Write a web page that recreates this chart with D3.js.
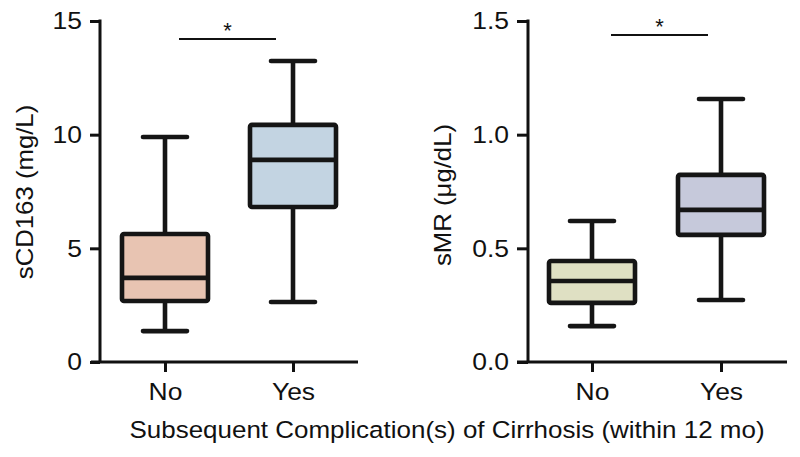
<!DOCTYPE html>
<html><head><meta charset="utf-8">
<script src="https://cdn.jsdelivr.net/npm/d3@7"></script>
<style>body{margin:0;background:#fff}svg{display:block}text{font-family:"Liberation Sans",Arial,sans-serif;fill:#111}</style>
</head><body>
<svg id="c" width="800" height="457"></svg>
<script>
const categories = ["No", "Yes"];
// [min, q1, median, q3, max]
const sCD163 = [[1.36, 2.68, 3.70, 5.63, 9.90], [2.64, 6.82, 8.89, 10.43, 13.24]];
const sMR = [[0.158, 0.26, 0.356, 0.444, 0.62], [0.273, 0.559, 0.669, 0.823, 1.157]];
const leftTicks = [0, 5, 10, 15];
const rightTicks = [0, 0.5, 1.0, 1.5];
const leftColors = ["#e8c4b2", "#c3d4e2"];
const rightColors = ["#dfe0c3", "#c6c9db"];

const svg = d3.select("#c");
const FS = 24.5;
function stretch(sel, k) {
  sel.each(function() {
    const L = this.getComputedTextLength();
    d3.select(this).attr("textLength", L * k).attr("lengthAdjust", "spacingAndGlyphs");
  });
}

function panel(opt) {
  const g = svg.append("g");
  const y = d3.scaleLinear().domain(opt.domain).range([362, 21]);
  const x = d3.scalePoint().domain(categories).range(opt.xr);
  const ya = d3.axisLeft(y).tickValues(opt.ticks).tickFormat(opt.fmt).tickSize(opt.ts).tickPadding(8);
  const yg = g.append("g").attr("transform", `translate(${opt.ax},0)`).call(ya);
  yg.select(".domain").remove();
  yg.append("line").attr("x1", 0).attr("x2", 0).attr("y1", y(opt.domain[1]) - 1.5).attr("y2", 362).attr("stroke", "#111").attr("stroke-width", 3);
  yg.selectAll(".tick line").attr("stroke", "#111").attr("stroke-width", 3);
  yg.selectAll(".tick text").attr("font-size", FS).style("fill", "#111").call(stretch, 1.08);
  const xa = d3.axisBottom(x).tickSize(10).tickPadding(11);
  const xg = g.append("g").attr("transform", "translate(0,362)").call(xa);
  xg.select(".domain").remove();
  xg.append("line").attr("x1", opt.xline[0]).attr("x2", opt.xline[1]).attr("stroke", "#111").attr("stroke-width", 3);
  xg.selectAll(".tick line").attr("stroke", "#111").attr("stroke-width", 3);
  xg.selectAll(".tick text").attr("font-size", FS).style("fill", "#111").call(stretch, 1.08);
  const hw = 43, cw = 22;
  opt.data.forEach((d, i) => {
    const cx = x(categories[i]);
    const bg = g.append("g").attr("stroke", "#151515").attr("stroke-width", 4.6);
    bg.append("line").attr("x1", cx).attr("x2", cx).attr("y1", y(d[0])).attr("y2", y(d[1]));
    bg.append("line").attr("x1", cx).attr("x2", cx).attr("y1", y(d[3])).attr("y2", y(d[4]));
    bg.append("line").attr("x1", cx - cw).attr("x2", cx + cw).attr("y1", y(d[0])).attr("y2", y(d[0])).attr("stroke-linecap", "round");
    bg.append("line").attr("x1", cx - cw).attr("x2", cx + cw).attr("y1", y(d[4])).attr("y2", y(d[4])).attr("stroke-linecap", "round");
    bg.append("rect").attr("x", cx - hw).attr("width", 2 * hw).attr("y", y(d[3])).attr("height", y(d[1]) - y(d[3]))
      .attr("fill", opt.colors[i]).attr("rx", 2).attr("stroke-linejoin", "round");
    bg.append("line").attr("x1", cx - hw).attr("x2", cx + hw).attr("y1", y(d[2])).attr("y2", y(d[2]));
  });
  g.append("line").attr("x1", opt.sig[0]).attr("x2", opt.sig[1]).attr("y1", opt.sigY).attr("y2", opt.sigY)
    .attr("stroke", "#111").attr("stroke-width", 2);
  g.append("text").attr("x", (opt.sig[0] + opt.sig[1]) / 2).attr("y", opt.sigY - 1).attr("text-anchor", "middle")
    .attr("font-size", 22).text("*");
  g.append("text").attr("transform", `translate(${opt.lx},${opt.ly}) rotate(-90)`).attr("text-anchor", "middle")
    .attr("font-size", FS).text(opt.label).call(stretch, 1.05);
}

panel({domain: [0, 15], ticks: leftTicks, fmt: d3.format("d"), ax: 100, ts: 10, xr: [165, 293], xline: [91, 358],
  data: sCD163, colors: leftColors, sig: [179, 276], sigY: 39, lx: 33, ly: 192, label: "sCD163 (mg/L)"});
panel({domain: [0, 1.5], ticks: rightTicks, fmt: d3.format(".1f"), ax: 528, ts: 11, xr: [592, 721], xline: [517, 787],
  data: sMR, colors: rightColors, sig: [611, 708], sigY: 35, lx: 451, ly: 195, label: "sMR (μg/dL)"});

svg.append("text").attr("x", 447).attr("y", 438).attr("text-anchor", "middle").attr("font-size", FS)
  .text("Subsequent Complication(s) of Cirrhosis (within 12 mo)").call(stretch, 1.06);
</script>
</body></html>
